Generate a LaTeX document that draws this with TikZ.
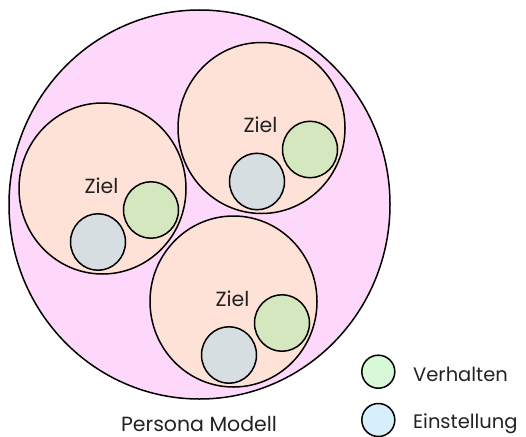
\documentclass[tikz,border=0pt]{standalone}
\usepackage{fontspec}
\setmainfont{Poppins}
\usepackage{xcolor}
\usetikzlibrary{calc,shapes.geometric}
\definecolor{persona}{HTML}{FDD8FA}
\definecolor{goal}{HTML}{FEE2D7}
\definecolor{behav}{HTML}{D5E7BF}
\definecolor{attit}{HTML}{D6DEE1}
\definecolor{legbehav}{HTML}{D7F9D8}
\definecolor{legattit}{HTML}{D7EEFB}
\definecolor{ink}{HTML}{222222}
\tikzset{
  blob/.style={ellipse, draw=black, line width=1.5pt, inner sep=0pt},
  outerc/.style={blob, fill=persona, minimum width=381pt, minimum height=389pt},
  goalc/.style={blob, fill=goal, minimum width=167pt, minimum height=171pt},
  smallc/.style={blob, minimum width=55pt, minimum height=56.5pt},
  legc/.style={circle, draw=black, line width=1.5pt, minimum size=33pt, inner sep=0pt},
  lab/.style={font=\fontsize{20.5}{23}\selectfont, text=ink, inner sep=0pt},
  legl/.style={lab, font=\fontsize{19.5}{22}\selectfont, anchor=base west}
}
\newcommand{\GoalGroup}[2]{%
  \node[goalc] (#1) at (#2) {};
  \node[lab, anchor=base] (#1-ziel) at ($(#2)+(-1,4.5)$) {Ziel};
  \node[smallc, fill=behav] (#1-verh) at ($(#2)+(48.5,21.5)$) {};
  \node[smallc, fill=attit] (#1-einst) at ($(#2)+(-4.5,53.5)$) {};
}

\begin{document}
\begin{tikzpicture}[x=1pt, y=-1pt]
  \useasboundingbox (0,0) rectangle (526,436);

  \node[outerc] (persona) at (199.5,204.5) {};

  \GoalGroup{left}{102.5,188.5}
  \GoalGroup{right}{261.5,128}
  \GoalGroup{bottom}{233.5,301.5}

  \node[lab, anchor=base] (name) at (199,431.5) {Persona Modell};

  % legend
  \node[legc, fill=legbehav] (legverh) at (378.3,371.7) {};
  \node[legc, fill=legattit] (legeinst) at (378.3,420) {};
  \node[legl] (verh) at (413,381.7) {Verhalten};
  \node[legl] (einst) at (413,428.3) {Einstellung};
\end{tikzpicture}
\end{document}
